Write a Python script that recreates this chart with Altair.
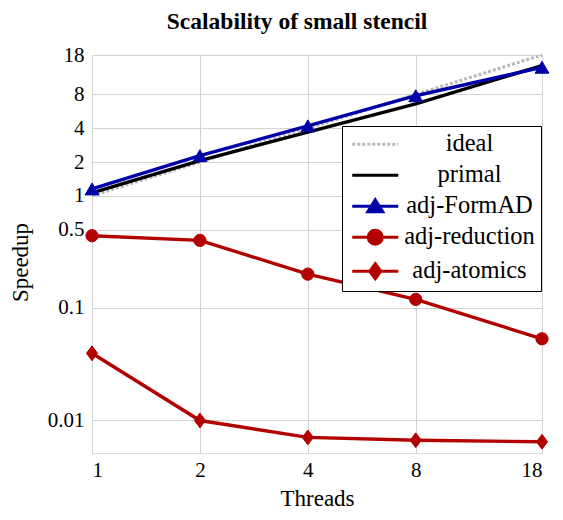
import altair as alt
import pandas as pd

threads = [1, 2, 4, 8, 18]
series_names = ["ideal", "primal", "adj-FormAD", "adj-reduction", "adj-atomics"]
ideal = [1, 2, 4, 8, 18]
primal = [1.06, 2.06, 3.7, 6.6, 14.5]
adj_formad = [1.15, 2.28, 4.2, 7.8, 14.0]
adj_reduction = [0.44, 0.40, 0.20, 0.119, 0.053]
adj_atomics = [0.0394, 0.0099, 0.0070, 0.0066, 0.0064]
x_ticks = [1, 2, 4, 8, 18]
y_ticks = [0.01, 0.1, 0.5, 1, 2, 4, 8, 18]

values = {
    "ideal": ideal,
    "primal": primal,
    "adj-FormAD": adj_formad,
    "adj-reduction": adj_reduction,
    "adj-atomics": adj_atomics,
}
rows = []
for name in series_names:
    for t, v in zip(threads, values[name]):
        rows.append({"threads": t, "speedup": v, "series": name})
df = pd.DataFrame(rows)

# hidden rows only used to build the legend (outside the y domain, clipped)
legend_df = pd.DataFrame({"threads": [1] * 5, "speedup": [1e-5] * 5, "series": series_names})

GRAY = "#b9b9b9"
BLUE = "#0000a8"
RED = "#b30000"
colors = [GRAY, "#000000", BLUE, RED, RED]
line_dash = {"ideal": [3, 2]}
markers = {"adj-FormAD": ("triangle-up", 190),
           "adj-reduction": ("circle", 150),
           "adj-atomics": ("M0,-1L0.75,0L0,1L-0.75,0Z", 220)}

FONT = "Liberation Serif"

xaxis = alt.Axis(values=x_ticks, format="~g", grid=True, gridColor="#d2d2d2", gridWidth=1,
                 domain=False, ticks=False, tickSize=0, labelPadding=6,
                 labelFont=FONT, labelFontSize=21, labelColor="black", labelBaseline="top",
                 title="Threads", titleFont=FONT, titleFontSize=23, titleFontWeight="normal",
                 titleColor="black", titleBaseline="alphabetic", titleY=52)
yaxis = alt.Axis(values=y_ticks, format="~g", grid=True, gridColor="#d2d2d2", gridWidth=1,
                 domain=False, ticks=False, tickSize=0, labelPadding=8,
                 labelFont=FONT, labelFontSize=21, labelColor="black",
                 title="Speedup", titleFont=FONT, titleFontSize=23, titleFontWeight="normal",
                 titleColor="black", titleAngle=270, titleAlign="center",
                 titleBaseline="middle", titleX=-72, titleY=207)

X = alt.X("threads:Q", scale=alt.Scale(type="log", base=2, domain=[1, 18], nice=False), axis=xaxis)
Y = alt.Y("speedup:Q", scale=alt.Scale(type="log", domain=[0.00508, 18], nice=False), axis=yaxis)

layers = []
for name, col in zip(series_names, colors):
    sub = alt.Chart(df).transform_filter(alt.datum.series == name)
    kw = dict(color=col, strokeWidth=3.4 if name != "ideal" else 3.2)
    if name in line_dash:
        kw["strokeDash"] = line_dash[name]
    layers.append(sub.mark_line(**kw).encode(x=X, y=Y))
    if name in markers:
        shp, sz = markers[name]
        layers.append(sub.mark_point(filled=True, shape=shp, size=sz, color=col,
                                     stroke=col, strokeWidth=1, opacity=1).encode(x=X, y=Y))

# legend symbols: line segment + marker, drawn as custom paths (unit = 10 px)
seg = "M-2.3,0H2.3"
dots = "".join("M%.2f,0H%.2f" % (-2.3 + k * 0.5, min(2.3, -2.3 + k * 0.5 + 0.3)) for k in range(10))
legend_paths = [
    dots,
    seg,
    seg + "M0,-0.65L0.75,0.55L-0.75,0.55Z",
    seg + "M0.7,0A0.7,0.7,0,1,1,-0.7,0A0.7,0.7,0,1,1,0.7,0Z",
    seg + "M0,-0.75L0.55,0L0,0.75L-0.55,0Z",
]

leg = alt.Legend(orient="none", legendX=250, legendY=71, title=None,
                 symbolSize=400, symbolStrokeWidth=3, symbolOpacity=1, symbolOffset=15,
                 labelFont=FONT, labelFontSize=24.5, labelColor="black",
                 labelAlign="center", labelOffset=82, labelLimit=0,
                 padding=6, rowPadding=6, strokeColor="black", fillColor="white",
                 cornerRadius=0)

legend_layer = alt.Chart(legend_df).mark_point(filled=True, clip=True, strokeWidth=3).encode(
    x=X, y=Y,
    fill=alt.Fill("series:N", scale=alt.Scale(domain=series_names, range=colors), legend=leg),
    stroke=alt.Stroke("series:N", scale=alt.Scale(domain=series_names, range=colors), legend=leg),
    shape=alt.Shape("series:N", scale=alt.Scale(domain=series_names, range=legend_paths), legend=leg),
)
layers.append(legend_layer)

chart = alt.layer(*layers).properties(
    width=450, height=398,
    title=alt.TitleParams("Scalability of small stencil", font=FONT, fontSize=23.5,
                          fontWeight="bold", color="black", orient="none", anchor="middle",
                          align="center", baseline="alphabetic", dx=205, dy=-26),
    autosize=alt.AutoSizeParams(type="none"),
    padding={"left": 84, "top": 47, "right": 13, "bottom": 59},
).configure_view(stroke="#333333", strokeWidth=1.2).configure(font=FONT)

chart.save("out.html", embed_options={"renderer": "svg", "actions": False})
